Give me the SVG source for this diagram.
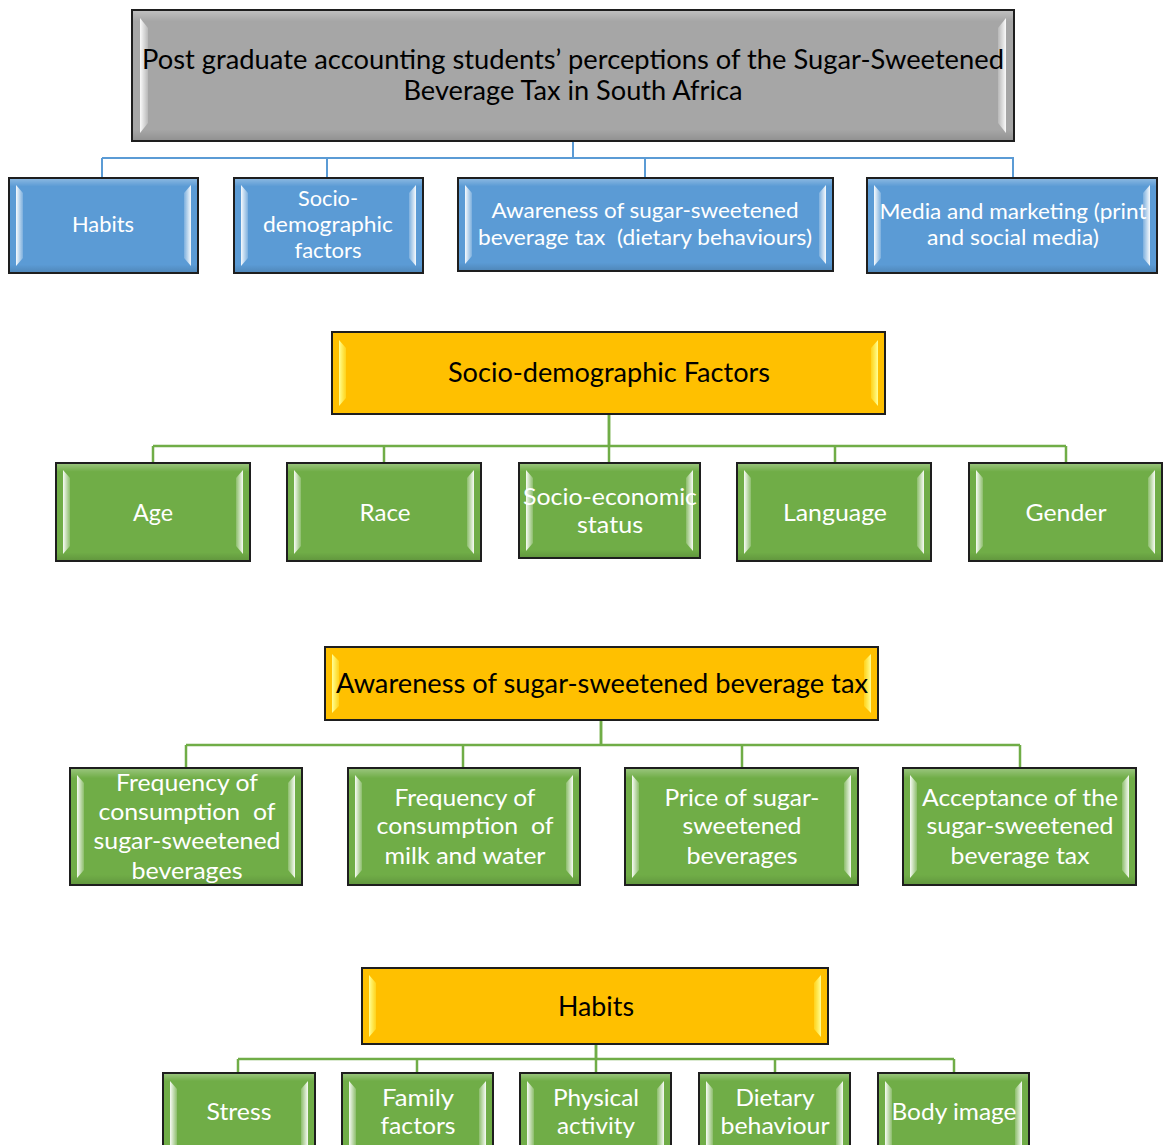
<svg xmlns="http://www.w3.org/2000/svg" width="1165" height="1145" viewBox="0 0 1165 1145">
<defs>
<linearGradient id="sL" x1="0" y1="0" x2="1" y2="0"><stop offset="0" stop-color="#ffffff" stop-opacity="0.95"/><stop offset="1" stop-color="#ffffff" stop-opacity="0.2"/></linearGradient>
<linearGradient id="sR" x1="1" y1="0" x2="0" y2="0"><stop offset="0" stop-color="#ffffff" stop-opacity="0.95"/><stop offset="1" stop-color="#ffffff" stop-opacity="0.2"/></linearGradient>
<linearGradient id="sheen" x1="0" y1="0" x2="0" y2="1"><stop offset="0" stop-color="#ffffff" stop-opacity="0.28"/><stop offset="0.08" stop-color="#ffffff" stop-opacity="0"/><stop offset="0.92" stop-color="#000000" stop-opacity="0"/><stop offset="1" stop-color="#000000" stop-opacity="0.12"/></linearGradient>
<linearGradient id="ysL" x1="0" y1="0" x2="1" y2="0"><stop offset="0" stop-color="#ffff99" stop-opacity="1"/><stop offset="1" stop-color="#ffff66" stop-opacity="0.3"/></linearGradient>
<linearGradient id="ysR" x1="1" y1="0" x2="0" y2="0"><stop offset="0" stop-color="#ffff99" stop-opacity="1"/><stop offset="1" stop-color="#ffff66" stop-opacity="0.3"/></linearGradient>
</defs>
<style>
.box{stroke:#1e1e1e;stroke-width:2}
.gray{fill:#a6a6a6}
.blue{fill:#5b9bd5}
.yel{fill:#ffc000}
.grn{fill:#70ad47}
.sh{fill:url(#sheen)}
.l{fill:url(#sL)}
.r{fill:url(#sR)}
.yl{fill:url(#ysL)}
.yr{fill:url(#ysR)}
text{font-family:Lato,"Open Sans","Liberation Sans",sans-serif;text-anchor:middle;white-space:pre}
.tw{fill:#ffffff;font-size:24px}
.tb{fill:#ffffff;font-size:22px}
.tk{fill:#000000;font-size:26px}
.cb{stroke:#5b9bd5;fill:none;stroke-width:2}
.cg{stroke:#70ad47;fill:none;stroke-width:2.5}
</style>

<g id="connectors">
<path class="cb" d="M573 141V158M102 158H1014M102 158V178M327 158V178M645 158V178M1013 158V178" />
<path class="cb" d="M573 141V158" stroke-width="3.5"/>
<path class="cg" d="M609 414V446M153 446H1066M153 446V463M384 446V463M609 446V463M835 446V463M1066 446V463"/>
<path class="cg" d="M609 414V446" stroke-width="3.5"/>
<path class="cg" d="M601 720V745M186 745H1020M186 745V768M463 745V768M742 745V768M1020 745V768"/>
<path class="cg" d="M601 720V745" stroke-width="3.5"/>
<path class="cg" d="M596 1044V1059M238 1059H954M238 1059V1073M417 1059V1073M596 1059V1073M775 1059V1073M954 1059V1073"/>
<path class="cg" d="M596 1044V1059" stroke-width="3.5"/>
</g>

<g id="title">
<rect class="box gray" x="132" y="10" width="882" height="131"/>
<rect class="sh" x="133" y="11" width="880" height="129"/>
<polygon class="l" points="140,18 148,28 148,123 140,133"/>
<polygon class="r" points="1006,18 998,28 998,123 1006,133"/>
<text class="tk" x="573" y="69" textLength="862" lengthAdjust="spacingAndGlyphs">Post graduate accounting students’ perceptions of the Sugar-Sweetened</text>
<text class="tk" x="573" y="100" textLength="339" lengthAdjust="spacingAndGlyphs">Beverage Tax in South Africa</text>
</g>

<g id="b-habits">
<rect class="box blue" x="9" y="178" width="189" height="95"/>
<rect class="sh" x="10" y="179" width="187" height="93"/>
<polygon class="l" points="16,185 23,193 23,258 16,266"/>
<polygon class="r" points="191,185 184,193 184,258 191,266"/>
<text class="tb" x="103" y="232" textLength="62" lengthAdjust="spacingAndGlyphs">Habits</text>
</g>
<g id="b-socio">
<rect class="box blue" x="234" y="178" width="189" height="95"/>
<rect class="sh" x="235" y="179" width="187" height="93"/>
<polygon class="l" points="241,185 248,193 248,258 241,266"/>
<polygon class="r" points="416,185 409,193 409,258 416,266"/>
<text class="tb" x="328" y="206" textLength="60" lengthAdjust="spacingAndGlyphs">Socio-</text>
<text class="tb" x="328" y="232" textLength="130" lengthAdjust="spacingAndGlyphs">demographic</text>
<text class="tb" x="328" y="258" textLength="67" lengthAdjust="spacingAndGlyphs">factors</text>
</g>
<g id="b-awareness">
<rect class="box blue" x="458" y="178" width="375" height="93"/>
<rect class="sh" x="459" y="179" width="373" height="91"/>
<polygon class="l" points="465,185 472,193 472,256 465,264"/>
<polygon class="r" points="826,185 819,193 819,256 826,264"/>
<text class="tb" x="645" y="218" textLength="307" lengthAdjust="spacingAndGlyphs">Awareness of sugar-sweetened</text>
<text class="tb" x="645" y="245" textLength="334" lengthAdjust="spacingAndGlyphs">beverage tax  (dietary behaviours)</text>
</g>
<g id="b-media">
<rect class="box blue" x="867" y="178" width="290" height="95"/>
<rect class="sh" x="868" y="179" width="288" height="93"/>
<polygon class="l" points="874,185 881,193 881,258 874,266"/>
<polygon class="r" points="1150,185 1143,193 1143,258 1150,266"/>
<text class="tb" x="1013" y="219" textLength="267" lengthAdjust="spacingAndGlyphs">Media and marketing (print</text>
<text class="tb" x="1013" y="245" textLength="172" lengthAdjust="spacingAndGlyphs">and social media)</text>
</g>

<g id="y-socio">
<rect class="box yel" x="332" y="332" width="553" height="82"/>
<polygon class="yl" points="339,340 346,348 346,398 339,406"/>
<polygon class="yr" points="878,340 871,348 871,398 878,406"/>
<text class="tk" x="609" y="382" textLength="322" lengthAdjust="spacingAndGlyphs">Socio-demographic Factors</text>
</g>

<g id="g-age">
<rect class="box grn" x="56" y="463" width="194" height="98"/>
<rect class="sh" x="57" y="464" width="192" height="96"/>
<polygon class="l" points="63,470 70,478 70,546 63,554"/>
<polygon class="r" points="243,470 236,478 236,546 243,554"/>
<text class="tw" x="153" y="521" textLength="40" lengthAdjust="spacingAndGlyphs">Age</text>
</g>
<g id="g-race">
<rect class="box grn" x="287" y="463" width="194" height="98"/>
<rect class="sh" x="288" y="464" width="192" height="96"/>
<polygon class="l" points="294,470 301,478 301,546 294,554"/>
<polygon class="r" points="474,470 467,478 467,546 474,554"/>
<text class="tw" x="385" y="521" textLength="51" lengthAdjust="spacingAndGlyphs">Race</text>
</g>
<g id="g-ses">
<rect class="box grn" x="519" y="463" width="181" height="95"/>
<rect class="sh" x="520" y="464" width="179" height="93"/>
<polygon class="l" points="526,470 533,478 533,543 526,551"/>
<polygon class="r" points="693,470 686,478 686,543 693,551"/>
<text class="tw" x="610" y="505" textLength="174" lengthAdjust="spacingAndGlyphs">Socio-economic</text>
<text class="tw" x="610" y="533" textLength="66" lengthAdjust="spacingAndGlyphs">status</text>
</g>
<g id="g-language">
<rect class="box grn" x="737" y="463" width="194" height="98"/>
<rect class="sh" x="738" y="464" width="192" height="96"/>
<polygon class="l" points="744,470 751,478 751,546 744,554"/>
<polygon class="r" points="924,470 917,478 917,546 924,554"/>
<text class="tw" x="835" y="521" textLength="104" lengthAdjust="spacingAndGlyphs">Language</text>
</g>
<g id="g-gender">
<rect class="box grn" x="969" y="463" width="193" height="98"/>
<rect class="sh" x="970" y="464" width="191" height="96"/>
<polygon class="l" points="976,470 983,478 983,546 976,554"/>
<polygon class="r" points="1155,470 1148,478 1148,546 1155,554"/>
<text class="tw" x="1066" y="521" textLength="81" lengthAdjust="spacingAndGlyphs">Gender</text>
</g>

<g id="y-awareness">
<rect class="box yel" x="325" y="647" width="553" height="73"/>
<polygon class="yl" points="332,654 339,661 339,706 332,713"/>
<polygon class="yr" points="871,654 864,661 864,706 871,713"/>
<text class="tk" x="602" y="693" textLength="532" lengthAdjust="spacingAndGlyphs">Awareness of sugar-sweetened beverage tax</text>
</g>

<g id="g-freqssb">
<rect class="box grn" x="70" y="768" width="232" height="117"/>
<rect class="sh" x="71" y="769" width="230" height="115"/>
<polygon class="l" points="77,775 84,783 84,870 77,878"/>
<polygon class="r" points="295,775 288,783 288,870 295,878"/>
<text class="tw" x="187" y="791" textLength="142" lengthAdjust="spacingAndGlyphs">Frequency of</text>
<text class="tw" x="187" y="820" textLength="177" lengthAdjust="spacingAndGlyphs">consumption  of</text>
<text class="tw" x="187" y="849" textLength="187" lengthAdjust="spacingAndGlyphs">sugar-sweetened</text>
<text class="tw" x="187" y="879" textLength="111" lengthAdjust="spacingAndGlyphs">beverages</text>
</g>
<g id="g-freqmilk">
<rect class="box grn" x="348" y="768" width="232" height="117"/>
<rect class="sh" x="349" y="769" width="230" height="115"/>
<polygon class="l" points="355,775 362,783 362,870 355,878"/>
<polygon class="r" points="573,775 566,783 566,870 573,878"/>
<text class="tw" x="465" y="806" textLength="141" lengthAdjust="spacingAndGlyphs">Frequency of</text>
<text class="tw" x="465" y="834" textLength="177" lengthAdjust="spacingAndGlyphs">consumption  of</text>
<text class="tw" x="465" y="864" textLength="161" lengthAdjust="spacingAndGlyphs">milk and water</text>
</g>
<g id="g-price">
<rect class="box grn" x="625" y="768" width="233" height="117"/>
<rect class="sh" x="626" y="769" width="231" height="115"/>
<polygon class="l" points="632,775 639,783 639,870 632,878"/>
<polygon class="r" points="851,775 844,783 844,870 851,878"/>
<text class="tw" x="742" y="806" textLength="155" lengthAdjust="spacingAndGlyphs">Price of sugar-</text>
<text class="tw" x="742" y="834" textLength="119" lengthAdjust="spacingAndGlyphs">sweetened</text>
<text class="tw" x="742" y="864" textLength="111" lengthAdjust="spacingAndGlyphs">beverages</text>
</g>
<g id="g-acceptance">
<rect class="box grn" x="903" y="768" width="233" height="117"/>
<rect class="sh" x="904" y="769" width="231" height="115"/>
<polygon class="l" points="910,775 917,783 917,870 910,878"/>
<polygon class="r" points="1129,775 1122,783 1122,870 1129,878"/>
<text class="tw" x="1020" y="806" textLength="196" lengthAdjust="spacingAndGlyphs">Acceptance of the</text>
<text class="tw" x="1020" y="834" textLength="187" lengthAdjust="spacingAndGlyphs">sugar-sweetened</text>
<text class="tw" x="1020" y="864" textLength="139" lengthAdjust="spacingAndGlyphs">beverage tax</text>
</g>

<g id="y-habits">
<rect class="box yel" x="362" y="968" width="466" height="76"/>
<polygon class="yl" points="369,975 376,983 376,1029 369,1037"/>
<polygon class="yr" points="821,975 814,983 814,1029 821,1037"/>
<text class="tk" x="596" y="1016" textLength="76" lengthAdjust="spacingAndGlyphs">Habits</text>
</g>

<g id="g-stress">
<rect class="box grn" x="163" y="1073" width="152" height="90"/>
<rect class="sh" x="164" y="1074" width="150" height="88"/>
<polygon class="l" points="170,1081 177,1089 177,1160 170,1168"/>
<polygon class="r" points="308,1081 301,1089 301,1160 308,1168"/>
<text class="tw" x="239" y="1120" textLength="65" lengthAdjust="spacingAndGlyphs">Stress</text>
</g>
<g id="g-family">
<rect class="box grn" x="342" y="1073" width="151" height="90"/>
<rect class="sh" x="343" y="1074" width="149" height="88"/>
<polygon class="l" points="349,1081 356,1089 356,1160 349,1168"/>
<polygon class="r" points="486,1081 479,1089 479,1160 486,1168"/>
<text class="tw" x="418" y="1106" textLength="72" lengthAdjust="spacingAndGlyphs">Family</text>
<text class="tw" x="418" y="1134" textLength="75" lengthAdjust="spacingAndGlyphs">factors</text>
</g>
<g id="g-physical">
<rect class="box grn" x="520" y="1073" width="151" height="90"/>
<rect class="sh" x="521" y="1074" width="149" height="88"/>
<polygon class="l" points="527,1081 534,1089 534,1160 527,1168"/>
<polygon class="r" points="664,1081 657,1089 657,1160 664,1168"/>
<text class="tw" x="596" y="1106" textLength="86" lengthAdjust="spacingAndGlyphs">Physical</text>
<text class="tw" x="596" y="1134" textLength="78" lengthAdjust="spacingAndGlyphs">activity</text>
</g>
<g id="g-dietary">
<rect class="box grn" x="699" y="1073" width="151" height="90"/>
<rect class="sh" x="700" y="1074" width="149" height="88"/>
<polygon class="l" points="706,1081 713,1089 713,1160 706,1168"/>
<polygon class="r" points="843,1081 836,1089 836,1160 843,1168"/>
<text class="tw" x="775" y="1106" textLength="79" lengthAdjust="spacingAndGlyphs">Dietary</text>
<text class="tw" x="775" y="1134" textLength="109" lengthAdjust="spacingAndGlyphs">behaviour</text>
</g>
<g id="g-body">
<rect class="box grn" x="878" y="1073" width="151" height="90"/>
<rect class="sh" x="879" y="1074" width="149" height="88"/>
<polygon class="l" points="885,1081 892,1089 892,1160 885,1168"/>
<polygon class="r" points="1022,1081 1015,1089 1015,1160 1022,1168"/>
<text class="tw" x="954" y="1120" textLength="125" lengthAdjust="spacingAndGlyphs">Body image</text>
</g>
</svg>
